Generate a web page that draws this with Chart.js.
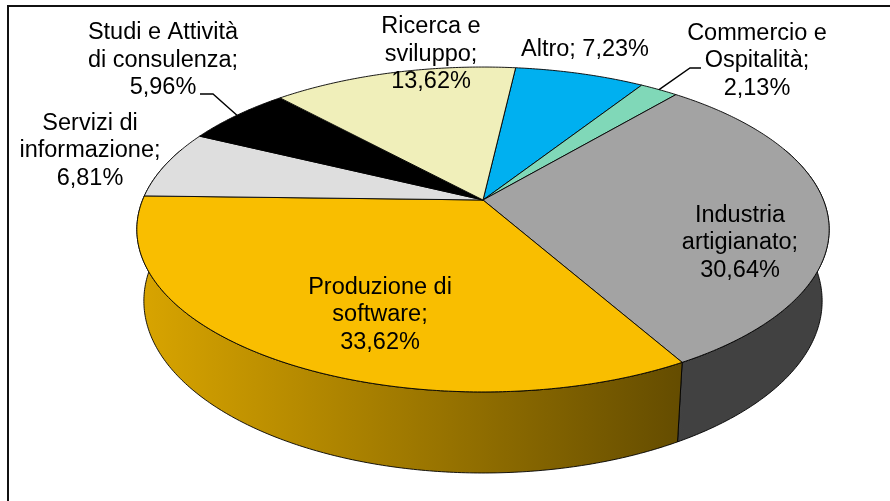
<!DOCTYPE html>
<html>
<head>
<meta charset="utf-8">
<script src="https://cdn.jsdelivr.net/npm/chart.js@4.4.0/dist/chart.umd.min.js"></script>
<style>
    body { margin: 0; background: #ffffff; }
    #wrap { width: 890px; height: 501px; }
</style>
</head>
<body>
<div id="wrap"><canvas id="pie-3d" width="890" height="501"></canvas></div>
<script>
// Sectors, clockwise from the top of the pie
const categories = [
    ['Altro'],
    ['Commercio e', 'Ospitalità'],
    ['Industria', 'artigianato'],
    ['Produzione di', 'software'],
    ['Servizi di', 'informazione'],
    ['Studi e Attività', 'di consulenza'],
    ['Ricerca e', 'sviluppo']
];
const shares = [7.23, 2.13, 30.64, 33.62, 6.81, 5.96, 13.62];
const sliceColors = ['#00B0F0', '#80D8B8', '#A3A3A3', '#F9BE00', '#DEDEDE', '#000000', '#F0EFBA'];

// Centre of each label block, and the leader lines (elbow, end) for the outside ones
const labelCentres = [[585, 50], [757, 61], [740, 243], [380, 315], [90, 151], [163, 60.5], [431, 54.5]];
const leaderLines = { 1: [[690, 68], [701, 68]], 5: [[213, 94], [200, 94]] };

const LABEL_FONT = '23.5px "Liberation Sans", Arial, sans-serif';
const LINE_H = 27.5;

// Perspective of the tilted pie, in units of the chart radius
const tilt = { a: 1.702, b: 0.7855, k: 0.1815, depth: 0.359, shrink: 0.02 };
// Only the front part of the side wall can be seen
const WALL_FROM = -0.35, WALL_TO = Math.PI + 0.35;

function project(el, angle, h) {
    // h = 0 on the top face, 1 on the bottom of the wall
    const u = Math.cos(angle), v = Math.sin(angle);
    const w = 1 - tilt.k * v + tilt.shrink * h;
    return {
        x: el.x + tilt.a * el.outerRadius * u / w,
        y: el.y + (tilt.b * v + tilt.depth * h) * el.outerRadius / w
    };
}

function shade(hex, f) {
    const n = parseInt(hex.slice(1), 16);
    const r = Math.round(((n >> 16) & 255) * f);
    const g = Math.round(((n >> 8) & 255) * f);
    const b = Math.round((n & 255) * f);
    return 'rgb(' + r + ',' + g + ',' + b + ')';
}

function arcPoints(el, a0, a1, h) {
    const pts = [];
    const steps = Math.max(2, Math.ceil((a1 - a0) / 0.01));
    for (let i = 0; i <= steps; i++) {
        pts.push(project(el, a0 + (a1 - a0) * i / steps, h));
    }
    return pts;
}

const pie3d = {
    id: 'pie3d',
    beforeDraw(chart) {
        // Chart frame, only left and top edges fall inside the picture
        const ctx = chart.ctx;
        ctx.save();
        ctx.strokeStyle = '#111111';
        ctx.lineWidth = 2;
        ctx.strokeRect(8, 6, 1000, 1000);
        ctx.restore();
    },
    beforeDatasetsDraw(chart) {
        const ctx = chart.ctx;
        const arcs = chart.getDatasetMeta(0).data;
        ctx.save();
        ctx.lineJoin = 'round';
        ctx.strokeStyle = '#000000';
        ctx.lineWidth = 0.9;

        // Side walls first
        arcs.forEach((arc, i) => {
            const el = arc.getProps(['x', 'y', 'startAngle', 'endAngle', 'outerRadius'], true);
            const a0 = Math.max(el.startAngle, WALL_FROM);
            const a1 = Math.min(el.endAngle, WALL_TO);
            if (a1 <= a0) return;
            const top = arcPoints(el, a0, a1, 0);
            const bottom = arcPoints(el, a0, a1, 1).reverse();
            const half = tilt.a * el.outerRadius * 1.017;
            const grad = ctx.createLinearGradient(el.x - half, 0, el.x + half, 0);
            const col = arc.options.backgroundColor;
            grad.addColorStop(0, shade(col, 0.87));
            grad.addColorStop(0.79, shade(col, 0.4));
            grad.addColorStop(1, shade(col, 0.4));
            ctx.beginPath();
            top.concat(bottom).forEach((p, j) => j ? ctx.lineTo(p.x, p.y) : ctx.moveTo(p.x, p.y));
            ctx.closePath();
            ctx.fillStyle = grad;
            ctx.fill();
            ctx.stroke();
        });

        // Then the top face of each slice
        arcs.forEach(arc => {
            const el = arc.getProps(['x', 'y', 'startAngle', 'endAngle', 'outerRadius'], true);
            ctx.beginPath();
            ctx.moveTo(el.x, el.y);
            arcPoints(el, el.startAngle, el.endAngle, 0).forEach(p => ctx.lineTo(p.x, p.y));
            ctx.closePath();
            ctx.fillStyle = arc.options.backgroundColor;
            ctx.fill();
            ctx.stroke();
        });
        ctx.restore();
        return false;
    },
    afterDraw(chart) {
        const ctx = chart.ctx;
        const arcs = chart.getDatasetMeta(0).data;
        ctx.save();

        // Leader lines from the rim to the outside labels
        ctx.strokeStyle = '#000000';
        ctx.lineWidth = 1.4;
        Object.keys(leaderLines).forEach(k => {
            const el = arcs[k].getProps(['x', 'y', 'startAngle', 'endAngle', 'outerRadius'], true);
            const rim = project(el, (el.startAngle + el.endAngle) / 2, 0);
            ctx.beginPath();
            ctx.moveTo(rim.x, rim.y);
            leaderLines[k].forEach(p => ctx.lineTo(p[0], p[1]));
            ctx.stroke();
        });

        // Data labels: category; percentage
        ctx.font = LABEL_FONT;
        ctx.fillStyle = '#000000';
        ctx.textAlign = 'center';
        ctx.textBaseline = 'middle';
        categories.forEach((cat, i) => {
            const pct = shares[i].toFixed(2).replace('.', ',') + '%';
            let lines;
            if (cat.length === 1) {
                lines = [cat[0] + '; ' + pct];
            } else {
                lines = cat.slice();
                lines[lines.length - 1] += ';';
                lines.push(pct);
            }
            const [cx, cy] = labelCentres[i];
            lines.forEach((txt, j) => {
                ctx.fillText(txt, cx, cy + (j - (lines.length - 1) / 2) * LINE_H);
            });
        });
        ctx.restore();
    }
};

new Chart(document.getElementById('pie-3d'), {
    type: 'pie',
    data: {
        labels: categories,
        datasets: [{
            data: shares,
            backgroundColor: sliceColors,
            borderWidth: 0
        }]
    },
    options: {
        responsive: false,
        animation: false,
        rotation: 6.5,
        layout: {
            // puts the pie centre where the slices meet in the picture
            padding: { left: 76, top: 0, right: 0, bottom: 101 }
        },
        plugins: {
            legend: { display: false },
            tooltip: { enabled: false }
        }
    },
    plugins: [pie3d]
});
</script>
</body>
</html>
